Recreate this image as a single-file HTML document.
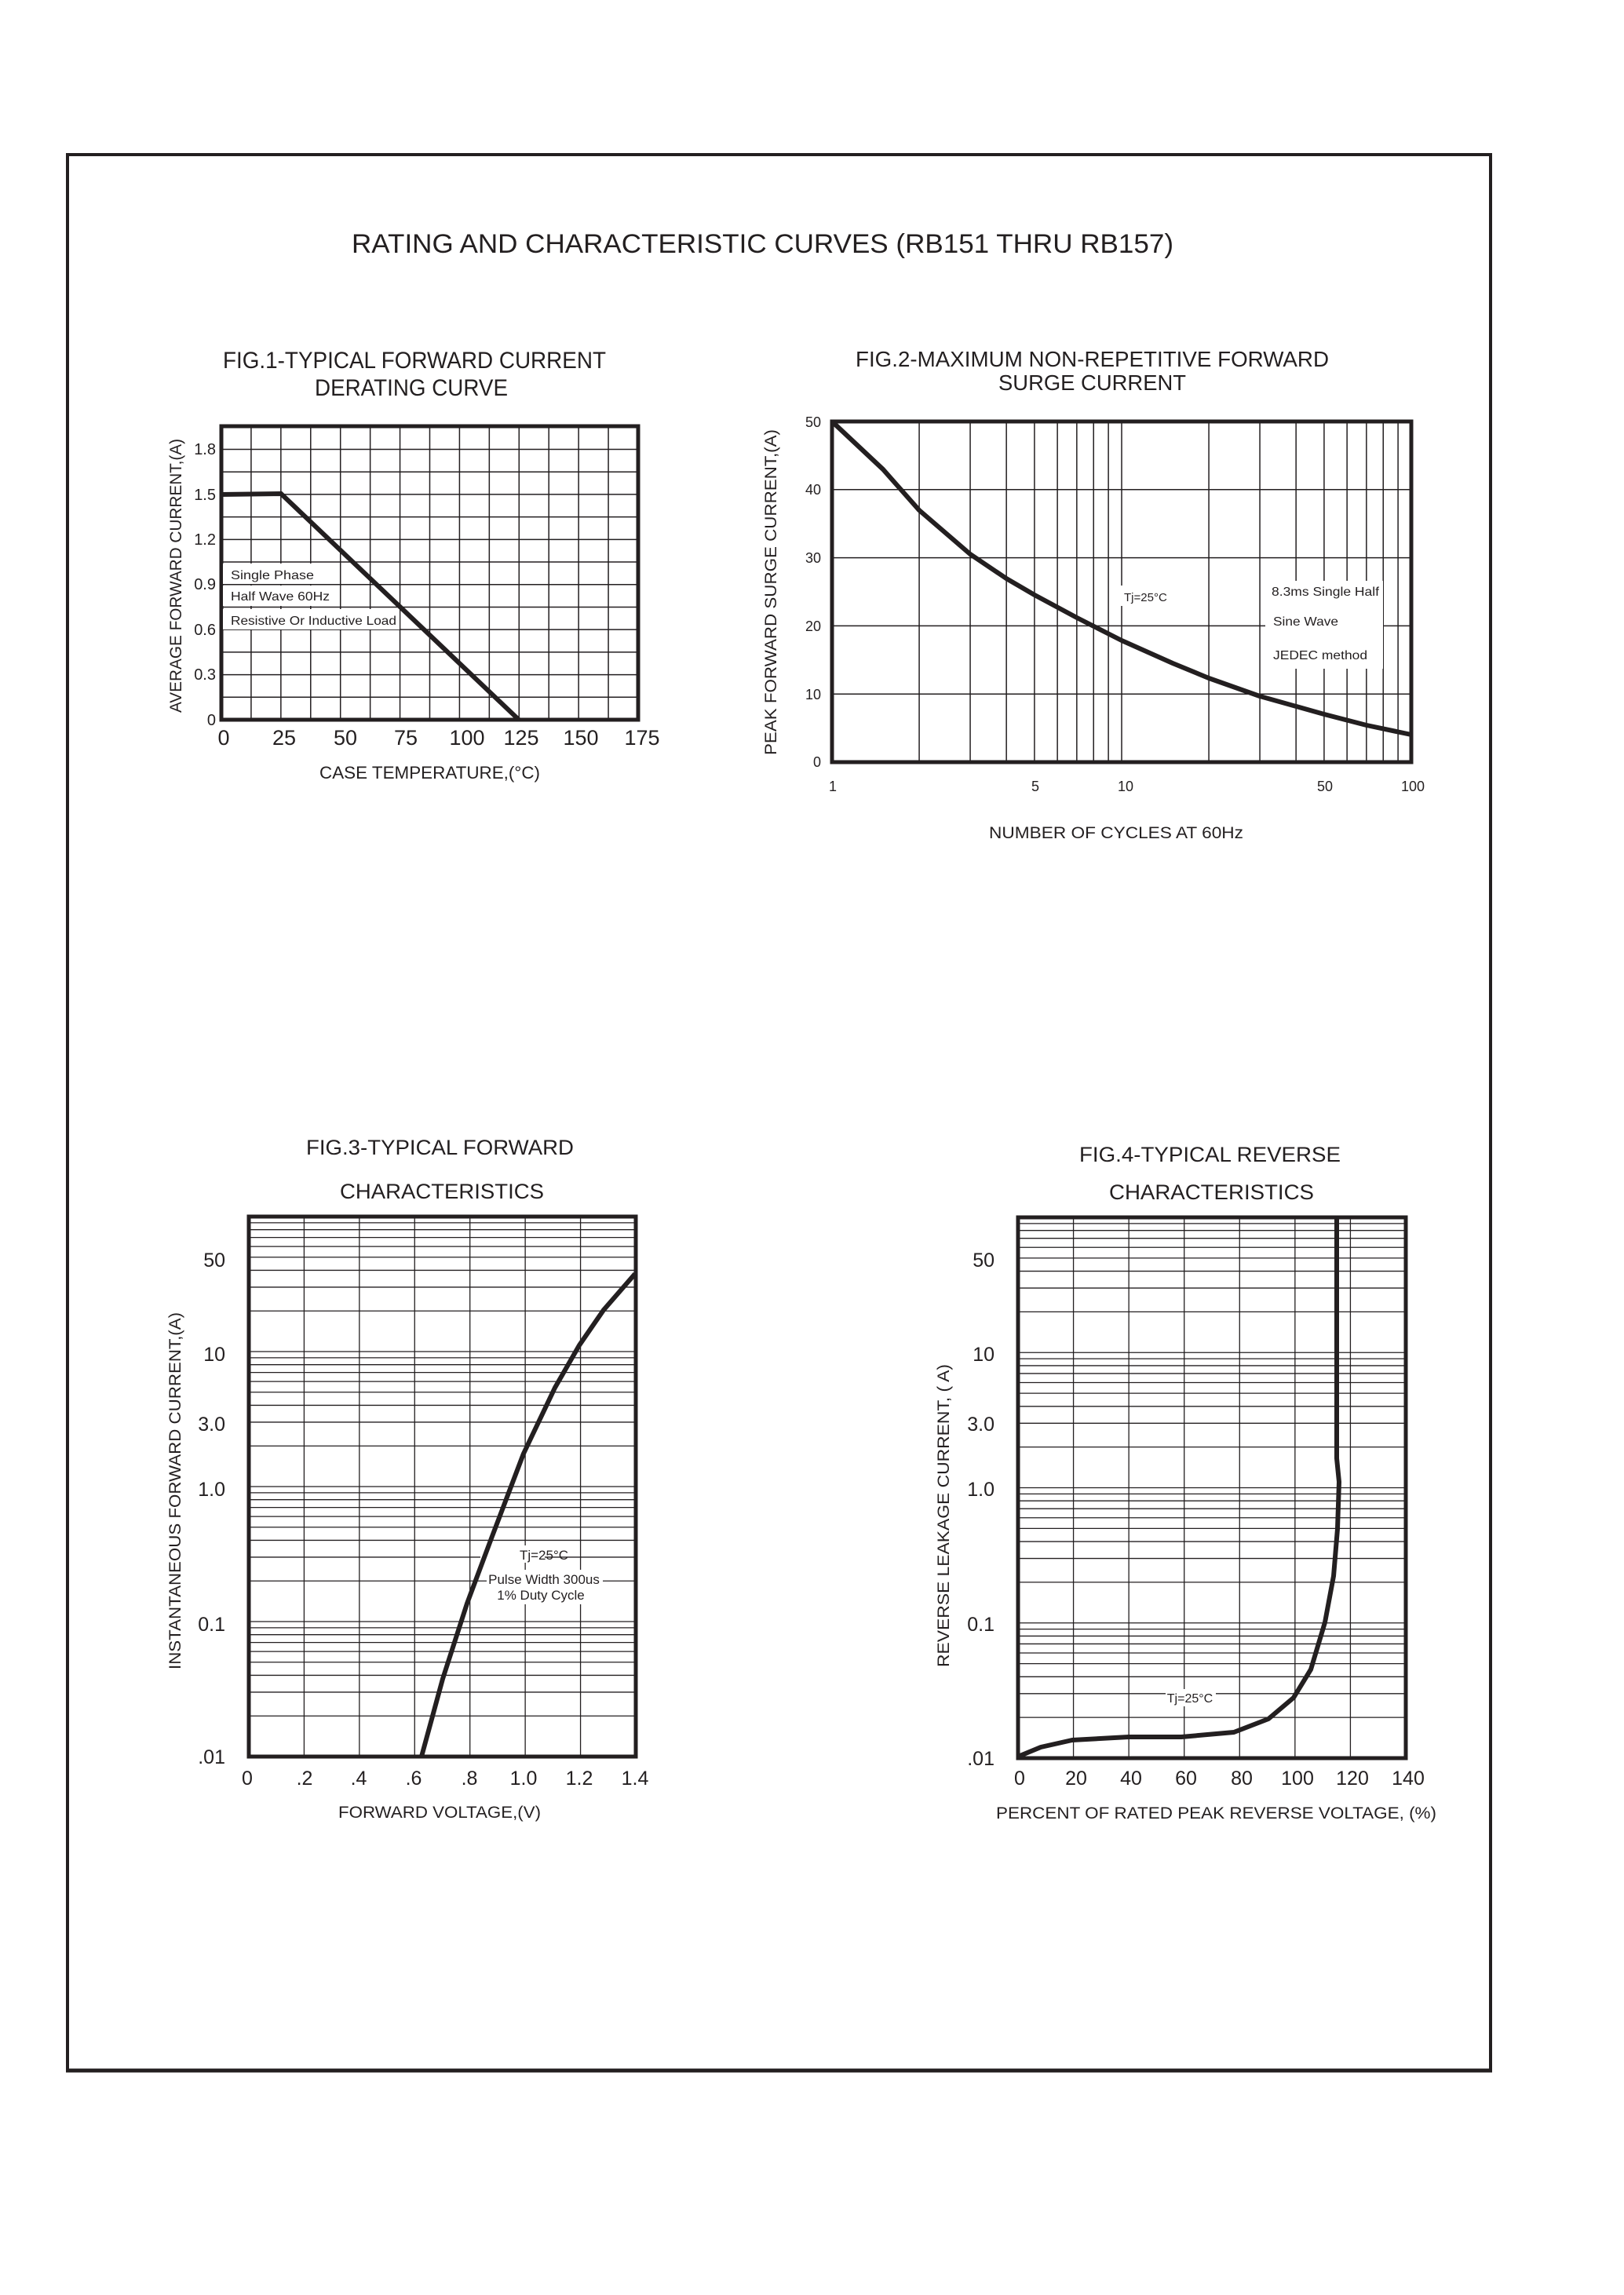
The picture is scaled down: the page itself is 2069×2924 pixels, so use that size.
<!DOCTYPE html>
<html><head><meta charset="utf-8"><style>
html,body{margin:0;padding:0;background:#fff;}
svg{display:block;}
text{font-family:"Liberation Sans",sans-serif;fill:#231f20;}
</style></head><body>
<svg id="s" width="2069" height="2924" viewBox="0 0 2069 2924" xmlns="http://www.w3.org/2000/svg">
<rect x="0" y="0" width="2069" height="2924" fill="#fff"/>
<rect x="86" y="197" width="1813" height="2441" fill="none" stroke="#231f20" stroke-width="4"/>
<line x1="84" y1="2638" x2="1901" y2="2638" stroke="#231f20" stroke-width="5"/>

<text x="448" y="322" font-size="34" textLength="1047" lengthAdjust="spacingAndGlyphs">RATING AND CHARACTERISTIC CURVES (RB151 THRU RB157)</text>

<!-- FIG 1 -->
<text x="284" y="469" font-size="30" textLength="488" lengthAdjust="spacingAndGlyphs">FIG.1-TYPICAL FORWARD CURRENT</text>
<text x="401" y="504" font-size="30" textLength="246" lengthAdjust="spacingAndGlyphs">DERATING CURVE</text>
<g id="g1" stroke="#231f20" stroke-width="1.5"></g>
<rect x="282" y="543" width="531" height="374" fill="none" stroke="#231f20" stroke-width="5"/>
<rect x="284" y="718" width="120" height="26" fill="#fff"/>
<rect x="284" y="746" width="140" height="26" fill="#fff"/>
<rect x="284" y="776" width="225" height="26" fill="#fff"/>
<text x="294" y="738" font-size="16" textLength="106" lengthAdjust="spacingAndGlyphs">Single Phase</text>
<text x="294" y="765" font-size="16" textLength="126" lengthAdjust="spacingAndGlyphs">Half Wave 60Hz</text>
<text x="294" y="796" font-size="16" textLength="211" lengthAdjust="spacingAndGlyphs">Resistive Or Inductive Load</text>
<polyline points="282,630 358,629 661,917" fill="none" stroke="#231f20" stroke-width="6"/>
<g font-size="20" text-anchor="end">
<text x="275" y="924">0</text><text x="275" y="866">0.3</text><text x="275" y="809">0.6</text>
<text x="275" y="751">0.9</text><text x="275" y="694">1.2</text><text x="275" y="637">1.5</text><text x="275" y="579">1.8</text>
</g>
<g font-size="27" text-anchor="middle">
<text x="285" y="949">0</text><text x="362" y="949">25</text><text x="440" y="949">50</text>
<text x="517" y="949">75</text><text x="595" y="949">100</text><text x="664" y="949">125</text>
<text x="740" y="949">150</text><text x="818" y="949">175</text>
</g>
<text x="407" y="992" font-size="22" textLength="281" lengthAdjust="spacingAndGlyphs">CASE TEMPERATURE,(°C)</text>
<text transform="translate(231,908) rotate(-90)" font-size="21" textLength="349" lengthAdjust="spacingAndGlyphs">AVERAGE FORWARD CURRENT,(A)</text>

<!-- FIG 2 -->
<text x="1090" y="467" font-size="28" textLength="603" lengthAdjust="spacingAndGlyphs">FIG.2-MAXIMUM NON-REPETITIVE FORWARD</text>
<text x="1272" y="497" font-size="28" textLength="239" lengthAdjust="spacingAndGlyphs">SURGE CURRENT</text>
<g id="g2" stroke="#231f20" stroke-width="1.5"></g>
<rect x="1612" y="740" width="150" height="112" fill="#fff"/>
<rect x="1425" y="746" width="60" height="26" fill="#fff"/>
<rect x="1060" y="537" width="738" height="434" fill="none" stroke="#231f20" stroke-width="5"/>
<polyline points="1060,537 1125,598 1171,650 1236,706 1282,737 1318,758 1372,787 1429,816 1494,845 1540,864 1605,887 1687,910 1741,924 1798,936" fill="none" stroke="#231f20" stroke-width="6" stroke-linejoin="round"/>
<text x="1432" y="766" font-size="15">Tj=25°C</text>
<text x="1620" y="759" font-size="16" textLength="137" lengthAdjust="spacingAndGlyphs">8.3ms Single Half</text>
<text x="1622" y="797" font-size="16" textLength="83" lengthAdjust="spacingAndGlyphs">Sine Wave</text>
<text x="1622" y="840" font-size="16" textLength="120" lengthAdjust="spacingAndGlyphs">JEDEC method</text>
<g font-size="18" text-anchor="end">
<text x="1046" y="977">0</text><text x="1046" y="891">10</text><text x="1046" y="804">20</text>
<text x="1046" y="717">30</text><text x="1046" y="630">40</text><text x="1046" y="544">50</text>
</g>
<g font-size="18" text-anchor="middle">
<text x="1061" y="1008">1</text><text x="1319" y="1008">5</text><text x="1434" y="1008">10</text>
<text x="1688" y="1008">50</text><text x="1800" y="1008">100</text>
</g>
<text x="1422" y="1068" font-size="21" text-anchor="middle" textLength="324" lengthAdjust="spacingAndGlyphs">NUMBER OF CYCLES AT 60Hz</text>
<text transform="translate(989,962) rotate(-90)" font-size="21" textLength="415" lengthAdjust="spacingAndGlyphs">PEAK FORWARD SURGE CURRENT,(A)</text>

<!-- FIG 3 -->
<text x="390" y="1471" font-size="27" textLength="341" lengthAdjust="spacingAndGlyphs">FIG.3-TYPICAL FORWARD</text>
<text x="433" y="1527" font-size="27" textLength="260" lengthAdjust="spacingAndGlyphs">CHARACTERISTICS</text>
<g id="g3" stroke="#231f20" stroke-width="1.3"></g>
<rect x="317" y="1550" width="493" height="688" fill="none" stroke="#231f20" stroke-width="5"/>
<rect x="612" y="1969" width="82" height="22" fill="#fff"/>
<rect x="620" y="2000" width="148" height="44" fill="#fff"/>
<polyline points="537,2238 564,2139 595,2043 626,1960 667,1852 707,1768 738,1714 769,1669 809,1623" fill="none" stroke="#231f20" stroke-width="6" stroke-linejoin="round"/>
<g font-size="17" text-anchor="middle">
<text x="693" y="1987">Tj=25°C</text>
<text x="693" y="2018">Pulse Width 300us</text>
<text x="689" y="2038">1% Duty Cycle</text>
</g>
<g font-size="25" text-anchor="end">
<text x="287" y="2247">.01</text><text x="287" y="2078">0.1</text><text x="287" y="1906">1.0</text>
<text x="287" y="1823">3.0</text><text x="287" y="1734">10</text><text x="287" y="1614">50</text>
</g>
<g font-size="25" text-anchor="middle">
<text x="315" y="2274">0</text><text x="388" y="2274">.2</text><text x="457" y="2274">.4</text>
<text x="527" y="2274">.6</text><text x="598" y="2274">.8</text><text x="667" y="2274">1.0</text>
<text x="738" y="2274">1.2</text><text x="809" y="2274">1.4</text>
</g>
<text x="431" y="2316" font-size="21" textLength="258" lengthAdjust="spacingAndGlyphs">FORWARD VOLTAGE,(V)</text>
<text transform="translate(230,2127) rotate(-90)" font-size="21" textLength="455" lengthAdjust="spacingAndGlyphs">INSTANTANEOUS FORWARD CURRENT,(A)</text>

<!-- FIG 4 -->
<text x="1375" y="1480" font-size="27" textLength="333" lengthAdjust="spacingAndGlyphs">FIG.4-TYPICAL REVERSE</text>
<text x="1413" y="1528" font-size="27" textLength="261" lengthAdjust="spacingAndGlyphs">CHARACTERISTICS</text>
<g id="g4" stroke="#231f20" stroke-width="1.3"></g>
<rect x="1297" y="1551" width="494" height="689" fill="none" stroke="#231f20" stroke-width="5"/>
<rect x="1485" y="2152" width="64" height="22" fill="#fff"/>
<polyline points="1297,2238 1326,2226 1366,2217 1438,2213 1505,2213 1572,2207 1616,2190 1648,2163 1670,2127 1688,2067 1699,2008 1704,1948 1706,1888 1703,1858 1703,1553" fill="none" stroke="#231f20" stroke-width="6" stroke-linejoin="round"/>
<text x="1516" y="2169" font-size="16" text-anchor="middle">Tj=25°C</text>
<g font-size="25" text-anchor="end">
<text x="1267" y="2249">.01</text><text x="1267" y="2078">0.1</text><text x="1267" y="1906">1.0</text>
<text x="1267" y="1823">3.0</text><text x="1267" y="1734">10</text><text x="1267" y="1614">50</text>
</g>
<g font-size="25" text-anchor="middle">
<text x="1299" y="2274">0</text><text x="1371" y="2274">20</text><text x="1441" y="2274">40</text>
<text x="1511" y="2274">60</text><text x="1582" y="2274">80</text><text x="1653" y="2274">100</text>
<text x="1723" y="2274">120</text><text x="1794" y="2274">140</text>
</g>
<text x="1269" y="2317" font-size="21" textLength="561" lengthAdjust="spacingAndGlyphs">PERCENT OF RATED PEAK REVERSE VOLTAGE, (%)</text>
<text transform="translate(1209,2124) rotate(-90)" font-size="21" textLength="386" lengthAdjust="spacingAndGlyphs">REVERSE LEAKAGE CURRENT, (  A)</text>
</svg>
<script>
(function(){
var NS="http://www.w3.org/2000/svg";
function L(g,x1,y1,x2,y2){var l=document.createElementNS(NS,"line");l.setAttribute("x1",x1);l.setAttribute("y1",y1);l.setAttribute("x2",x2);l.setAttribute("y2",y2);document.getElementById(g).appendChild(l);}
var k,d,m,y;
for(k=1;k<14;k++){var x=282+k*531/14;L("g1",x,543,x,917);}
for(k=1;k<13;k++){y=917-28.71*k;L("g1",282,y,813,y);}
for(d=0;d<2;d++)for(m=2;m<=10;m++){var x2=1060+369*(d+Math.log10(m));if(x2<1797)L("g2",x2,537,x2,971);}
for(k=1;k<5;k++){y=971-86.8*k;L("g2",1060,y,1798,y);}
for(k=1;k<7;k++){var x3=317+k*493/7;L("g3",x3,1550,x3,2238);var x4=1297+k*494/7;L("g4",x4,1551,x4,2240);}
for(d=0;d<4;d++)for(m=1;m<=9;m++){if(d==0&&m==1)continue;
 y=2238-172*(d+Math.log10(m));L("g3",317,y,810,y);
 y=2240-172.25*(d+Math.log10(m));L("g4",1297,y,1791,y);}
})();
</script>
</body></html>
